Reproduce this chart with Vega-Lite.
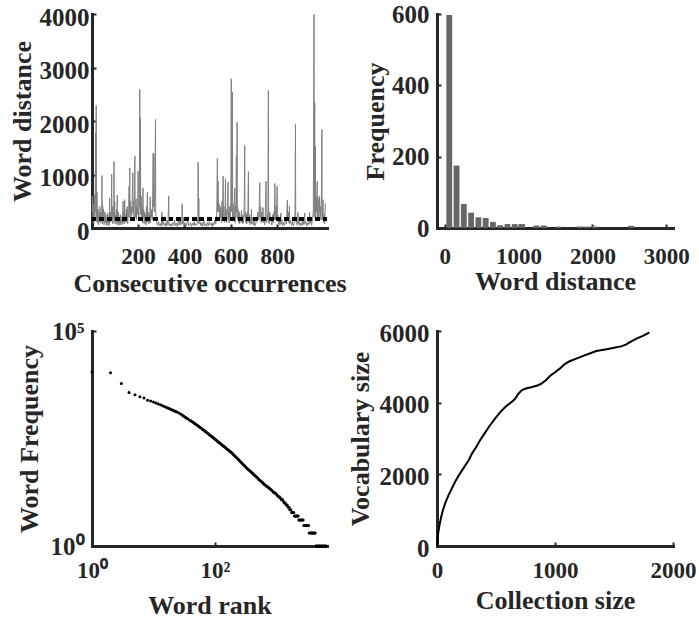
{
  "$schema": "https://vega.github.io/schema/vega-lite/v6.json",
  "background": "white",
  "padding": {"left": 8, "top": 2, "right": 0, "bottom": 0},
  "datasets": {
    "series": [
      {"occ":1,"dist":300},{"occ":3,"dist":600},{"occ":5,"dist":150},{"occ":7,"dist":450},{"occ":9,"dist":80},{"occ":11,"dist":620},{"occ":13,"dist":200},{"occ":15,"dist":500},{"occ":17,"dist":1780},{"occ":18,"dist":300},{"occ":19,"dist":2290},{"occ":20,"dist":120},{"occ":21,"dist":600},{"occ":23,"dist":670},{"occ":25,"dist":100},{"occ":27,"dist":350},{"occ":29,"dist":60},{"occ":31,"dist":250},{"occ":33,"dist":150},{"occ":35,"dist":400},{"occ":37,"dist":90},{"occ":39,"dist":300},{"occ":41,"dist":150},{"occ":43,"dist":200},{"occ":44,"dist":981},{"occ":45,"dist":80},{"occ":47,"dist":420},{"occ":49,"dist":150},{"occ":51,"dist":350},{"occ":53,"dist":60},{"occ":55,"dist":200},{"occ":57,"dist":300},{"occ":59,"dist":100},{"occ":61,"dist":250},{"occ":63,"dist":50},{"occ":65,"dist":180},{"occ":67,"dist":90},{"occ":69,"dist":280},{"occ":71,"dist":40},{"occ":73,"dist":150},{"occ":75,"dist":60},{"occ":77,"dist":564},{"occ":78,"dist":100},{"occ":80,"dist":300},{"occ":82,"dist":120},{"occ":84,"dist":200},{"occ":86,"dist":1006},{"occ":87,"dist":150},{"occ":89,"dist":400},{"occ":91,"dist":80},{"occ":93,"dist":300},{"occ":95,"dist":200},{"occ":96,"dist":1243},{"occ":97,"dist":120},{"occ":99,"dist":500},{"occ":101,"dist":80},{"occ":103,"dist":250},{"occ":105,"dist":150},{"occ":107,"dist":350},{"occ":109,"dist":60},{"occ":110,"dist":613},{"occ":111,"dist":200},{"occ":113,"dist":100},{"occ":115,"dist":300},{"occ":117,"dist":50},{"occ":119,"dist":200},{"occ":121,"dist":90},{"occ":123,"dist":250},{"occ":125,"dist":60},{"occ":127,"dist":180},{"occ":129,"dist":100},{"occ":131,"dist":220},{"occ":133,"dist":70},{"occ":135,"dist":501},{"occ":136,"dist":120},{"occ":138,"dist":300},{"occ":140,"dist":80},{"occ":142,"dist":530},{"occ":143,"dist":150},{"occ":145,"dist":250},{"occ":147,"dist":100},{"occ":149,"dist":350},{"occ":151,"dist":150},{"occ":153,"dist":400},{"occ":155,"dist":80},{"occ":157,"dist":300},{"occ":159,"dist":200},{"occ":161,"dist":781},{"occ":162,"dist":300},{"occ":164,"dist":1125},{"occ":165,"dist":200},{"occ":167,"dist":500},{"occ":169,"dist":150},{"occ":171,"dist":400},{"occ":173,"dist":250},{"occ":175,"dist":600},{"occ":177,"dist":1032},{"occ":178,"dist":300},{"occ":180,"dist":500},{"occ":182,"dist":150},{"occ":184,"dist":700},{"occ":186,"dist":1342},{"occ":187,"dist":400},{"occ":189,"dist":200},{"occ":191,"dist":550},{"occ":193,"dist":150},{"occ":195,"dist":400},{"occ":197,"dist":250},{"occ":199,"dist":600},{"occ":200,"dist":1063},{"occ":201,"dist":300},{"occ":203,"dist":150},{"occ":205,"dist":450},{"occ":207,"dist":2589},{"occ":208,"dist":400},{"occ":210,"dist":2059},{"occ":211,"dist":250},{"occ":213,"dist":600},{"occ":215,"dist":150},{"occ":217,"dist":400},{"occ":219,"dist":100},{"occ":221,"dist":750},{"occ":222,"dist":200},{"occ":224,"dist":350},{"occ":226,"dist":80},{"occ":228,"dist":300},{"occ":230,"dist":150},{"occ":232,"dist":250},{"occ":234,"dist":60},{"occ":236,"dist":400},{"occ":238,"dist":120},{"occ":240,"dist":670},{"occ":241,"dist":200},{"occ":243,"dist":100},{"occ":245,"dist":300},{"occ":247,"dist":80},{"occ":249,"dist":250},{"occ":251,"dist":150},{"occ":252,"dist":581},{"occ":253,"dist":100},{"occ":255,"dist":300},{"occ":257,"dist":200},{"occ":259,"dist":350},{"occ":261,"dist":150},{"occ":263,"dist":600},{"occ":265,"dist":1405},{"occ":266,"dist":400},{"occ":268,"dist":1380},{"occ":270,"dist":300},{"occ":272,"dist":600},{"occ":275,"dist":2028},{"occ":276,"dist":300},{"occ":278,"dist":150},{"occ":280,"dist":100},{"occ":284,"dist":50},{"occ":288,"dist":120},{"occ":292,"dist":40},{"occ":296,"dist":80},{"occ":300,"dist":30},{"occ":303,"dist":300},{"occ":305,"dist":60},{"occ":309,"dist":120},{"occ":313,"dist":40},{"occ":317,"dist":90},{"occ":321,"dist":30},{"occ":325,"dist":150},{"occ":329,"dist":50},{"occ":332,"dist":600},{"occ":333,"dist":100},{"occ":337,"dist":40},{"occ":341,"dist":80},{"occ":345,"dist":30},{"occ":349,"dist":100},{"occ":353,"dist":50},{"occ":357,"dist":150},{"occ":361,"dist":40},{"occ":365,"dist":90},{"occ":369,"dist":30},{"occ":373,"dist":120},{"occ":377,"dist":50},{"occ":381,"dist":200},{"occ":385,"dist":60},{"occ":389,"dist":120},{"occ":390,"dist":452},{"occ":391,"dist":80},{"occ":394,"dist":200},{"occ":398,"dist":50},{"occ":402,"dist":100},{"occ":406,"dist":30},{"occ":410,"dist":80},{"occ":414,"dist":150},{"occ":418,"dist":40},{"occ":422,"dist":60},{"occ":426,"dist":100},{"occ":430,"dist":30},{"occ":434,"dist":90},{"occ":438,"dist":50},{"occ":442,"dist":120},{"occ":446,"dist":40},{"occ":450,"dist":80},{"occ":454,"dist":60},{"occ":458,"dist":200},{"occ":459,"dist":1230},{"occ":460,"dist":100},{"occ":462,"dist":550},{"occ":463,"dist":80},{"occ":467,"dist":120},{"occ":471,"dist":40},{"occ":475,"dist":100},{"occ":479,"dist":30},{"occ":483,"dist":150},{"occ":487,"dist":50},{"occ":491,"dist":80},{"occ":495,"dist":30},{"occ":499,"dist":100},{"occ":503,"dist":40},{"occ":507,"dist":120},{"occ":511,"dist":60},{"occ":515,"dist":90},{"occ":519,"dist":30},{"occ":523,"dist":100},{"occ":527,"dist":50},{"occ":531,"dist":150},{"occ":535,"dist":80},{"occ":539,"dist":200},{"occ":542,"dist":1299},{"occ":543,"dist":300},{"occ":545,"dist":876},{"occ":546,"dist":500},{"occ":548,"dist":300},{"occ":550,"dist":450},{"occ":552,"dist":150},{"occ":554,"dist":400},{"occ":556,"dist":200},{"occ":558,"dist":350},{"occ":560,"dist":100},{"occ":562,"dist":500},{"occ":564,"dist":200},{"occ":567,"dist":969},{"occ":568,"dist":150},{"occ":570,"dist":400},{"occ":572,"dist":100},{"occ":575,"dist":300},{"occ":577,"dist":920},{"occ":578,"dist":200},{"occ":580,"dist":350},{"occ":582,"dist":100},{"occ":585,"dist":250},{"occ":588,"dist":857},{"occ":589,"dist":150},{"occ":591,"dist":300},{"occ":593,"dist":100},{"occ":595,"dist":400},{"occ":597,"dist":200},{"occ":600,"dist":500},{"occ":602,"dist":2789},{"occ":603,"dist":300},{"occ":605,"dist":600},{"occ":607,"dist":2539},{"occ":608,"dist":200},{"occ":610,"dist":450},{"occ":612,"dist":150},{"occ":614,"dist":300},{"occ":617,"dist":738},{"occ":618,"dist":100},{"occ":620,"dist":400},{"occ":622,"dist":200},{"occ":624,"dist":1343},{"occ":625,"dist":300},{"occ":627,"dist":1978},{"occ":628,"dist":250},{"occ":630,"dist":150},{"occ":632,"dist":350},{"occ":634,"dist":100},{"occ":636,"dist":300},{"occ":638,"dist":80},{"occ":640,"dist":200},{"occ":643,"dist":150},{"occ":646,"dist":330},{"occ":647,"dist":100},{"occ":649,"dist":250},{"occ":651,"dist":80},{"occ":653,"dist":200},{"occ":655,"dist":100},{"occ":658,"dist":400},{"occ":660,"dist":1542},{"occ":661,"dist":200},{"occ":663,"dist":300},{"occ":665,"dist":100},{"occ":667,"dist":250},{"occ":669,"dist":80},{"occ":671,"dist":300},{"occ":673,"dist":150},{"occ":676,"dist":1056},{"occ":677,"dist":200},{"occ":679,"dist":100},{"occ":681,"dist":250},{"occ":683,"dist":60},{"occ":685,"dist":200},{"occ":687,"dist":100},{"occ":689,"dist":350},{"occ":690,"dist":80},{"occ":693,"dist":200},{"occ":697,"dist":50},{"occ":701,"dist":150},{"occ":705,"dist":40},{"occ":709,"dist":100},{"occ":713,"dist":200},{"occ":717,"dist":300},{"occ":721,"dist":150},{"occ":725,"dist":845},{"occ":726,"dist":200},{"occ":729,"dist":400},{"occ":731,"dist":100},{"occ":734,"dist":300},{"occ":736,"dist":150},{"occ":739,"dist":380},{"occ":740,"dist":100},{"occ":743,"dist":200},{"occ":746,"dist":60},{"occ":749,"dist":300},{"occ":752,"dist":876},{"occ":753,"dist":200},{"occ":755,"dist":100},{"occ":758,"dist":250},{"occ":760,"dist":150},{"occ":762,"dist":2570},{"occ":763,"dist":200},{"occ":765,"dist":80},{"occ":768,"dist":300},{"occ":771,"dist":150},{"occ":774,"dist":200},{"occ":777,"dist":60},{"occ":780,"dist":250},{"occ":783,"dist":100},{"occ":786,"dist":300},{"occ":788,"dist":150},{"occ":790,"dist":832},{"occ":791,"dist":300},{"occ":793,"dist":150},{"occ":795,"dist":400},{"occ":797,"dist":200},{"occ":800,"dist":780},{"occ":801,"dist":150},{"occ":803,"dist":250},{"occ":806,"dist":80},{"occ":809,"dist":150},{"occ":812,"dist":50},{"occ":816,"dist":280},{"occ":817,"dist":80},{"occ":820,"dist":150},{"occ":824,"dist":40},{"occ":828,"dist":100},{"occ":832,"dist":60},{"occ":836,"dist":150},{"occ":840,"dist":80},{"occ":844,"dist":520},{"occ":845,"dist":150},{"occ":848,"dist":300},{"occ":851,"dist":100},{"occ":853,"dist":410},{"occ":854,"dist":80},{"occ":858,"dist":150},{"occ":862,"dist":50},{"occ":866,"dist":120},{"occ":870,"dist":40},{"occ":874,"dist":100},{"occ":877,"dist":300},{"occ":879,"dist":1935},{"occ":880,"dist":200},{"occ":883,"dist":100},{"occ":887,"dist":50},{"occ":890,"dist":290},{"occ":891,"dist":80},{"occ":895,"dist":120},{"occ":899,"dist":40},{"occ":903,"dist":100},{"occ":907,"dist":50},{"occ":911,"dist":150},{"occ":915,"dist":60},{"occ":919,"dist":280},{"occ":920,"dist":80},{"occ":924,"dist":120},{"occ":928,"dist":40},{"occ":932,"dist":100},{"occ":936,"dist":60},{"occ":940,"dist":290},{"occ":941,"dist":80},{"occ":945,"dist":150},{"occ":949,"dist":50},{"occ":953,"dist":200},{"occ":956,"dist":300},{"occ":959,"dist":3990},{"occ":960,"dist":200},{"occ":962,"dist":2340},{"occ":963,"dist":300},{"occ":965,"dist":1530},{"occ":966,"dist":200},{"occ":968,"dist":600},{"occ":970,"dist":300},{"occ":973,"dist":876},{"occ":974,"dist":200},{"occ":976,"dist":500},{"occ":978,"dist":150},{"occ":980,"dist":564},{"occ":981,"dist":300},{"occ":983,"dist":600},{"occ":985,"dist":200},{"occ":987,"dist":400},{"occ":989,"dist":150},{"occ":991,"dist":600},{"occ":993,"dist":1841},{"occ":994,"dist":300},{"occ":996,"dist":150},{"occ":998,"dist":530},{"occ":999,"dist":200},{"occ":1001,"dist":100},{"occ":1003,"dist":250},{"occ":1005,"dist":80},{"occ":1008,"dist":460}
    ],
    "hist": [
      {"from":21.6,"to":100.4,"n":597},{"from":120.1,"to":198.9,"n":175},{"from":218.6,"to":297.4,"n":67},{"from":317.1,"to":395.9,"n":43},{"from":415.6,"to":494.4,"n":30},{"from":514.1,"to":592.9,"n":28},{"from":612.6,"to":691.4,"n":17},{"from":711.1,"to":789.9,"n":8},{"from":809.6,"to":888.4,"n":11},{"from":908.1,"to":986.9,"n":11},{"from":1006.6,"to":1085.4,"n":11},{"from":1203.6,"to":1282.4,"n":7},{"from":1302.1,"to":1380.9,"n":7},{"from":1499.1,"to":1577.9,"n":4},{"from":1794.6,"to":1873.4,"n":4},{"from":1893.1,"to":1971.9,"n":4},{"from":1991.6,"to":2070.4,"n":4},{"from":2484.1,"to":2562.9,"n":6}
    ],
    "zipf": [
      {"rank":1,"freq":11200},{"rank":2,"freq":10700},{"rank":3,"freq":6050},{"rank":4,"freq":3700},{"rank":5,"freq":3310},{"rank":6,"freq":2970},{"rank":7,"freq":2760},{"rank":8,"freq":2450},{"rank":9,"freq":2340},{"rank":10,"freq":2230},{"rank":11,"freq":2120},{"rank":12,"freq":2010},{"rank":13,"freq":1915},{"rank":14,"freq":1830},{"rank":15,"freq":1755},{"rank":16,"freq":1690},{"rank":17,"freq":1630},{"rank":18,"freq":1567},{"rank":19,"freq":1510},{"rank":20,"freq":1465},{"rank":21,"freq":1420},{"rank":22,"freq":1380},{"rank":23,"freq":1340},{"rank":24,"freq":1306},{"rank":26,"freq":1233},{"rank":28,"freq":1151},{"rank":30,"freq":1080},{"rank":31,"freq":1040},{"rank":33,"freq":986},{"rank":34,"freq":950},{"rank":36,"freq":912},{"rank":39,"freq":843},{"rank":40,"freq":815},{"rank":42,"freq":785},{"rank":44,"freq":750},{"rank":46,"freq":716},{"rank":48,"freq":688},{"rank":50,"freq":660},{"rank":52,"freq":636},{"rank":54,"freq":612},{"rank":56,"freq":588},{"rank":58,"freq":565},{"rank":61,"freq":540},{"rank":63,"freq":515},{"rank":66,"freq":492},{"rank":68,"freq":472},{"rank":71,"freq":452},{"rank":74,"freq":431},{"rank":77,"freq":412},{"rank":80,"freq":393},{"rank":83,"freq":377},{"rank":86,"freq":361},{"rank":90,"freq":345},{"rank":93,"freq":330},{"rank":97,"freq":316},{"rank":100,"freq":302},{"rank":104,"freq":290},{"rank":108,"freq":277},{"rank":112,"freq":266},{"rank":116,"freq":255},{"rank":120,"freq":244},{"rank":125,"freq":234},{"rank":130,"freq":224},{"rank":135,"freq":214},{"rank":140,"freq":205},{"rank":145,"freq":197},{"rank":150,"freq":189},{"rank":156,"freq":181},{"rank":162,"freq":174},{"rank":168,"freq":167},{"rank":174,"freq":160},{"rank":181,"freq":153},{"rank":188,"freq":145},{"rank":195,"freq":138},{"rank":202,"freq":131},{"rank":210,"freq":124},{"rank":218,"freq":118},{"rank":226,"freq":112},{"rank":234,"freq":106},{"rank":243,"freq":101},{"rank":252,"freq":95},{"rank":262,"freq":90},{"rank":272,"freq":85},{"rank":282,"freq":81},{"rank":293,"freq":77},{"rank":304,"freq":73},{"rank":315,"freq":69},{"rank":327,"freq":65},{"rank":339,"freq":62},{"rank":352,"freq":59},{"rank":365,"freq":56},{"rank":379,"freq":54},{"rank":393,"freq":51},{"rank":408,"freq":49},{"rank":424,"freq":46},{"rank":440,"freq":44},{"rank":457,"freq":42},{"rank":474,"freq":40},{"rank":492,"freq":38},{"rank":510,"freq":36},{"rank":529,"freq":34},{"rank":549,"freq":33},{"rank":570,"freq":31},{"rank":591,"freq":30},{"rank":613,"freq":28},{"rank":636,"freq":27},{"rank":660,"freq":26},{"rank":685,"freq":25},{"rank":711,"freq":24},{"rank":738,"freq":23},{"rank":766,"freq":22},{"rank":795,"freq":21},{"rank":825,"freq":20},{"rank":856,"freq":19},{"rank":888,"freq":18},{"rank":922,"freq":17},{"rank":957,"freq":17},{"rank":993,"freq":16},{"rank":1030,"freq":15},{"rank":1069,"freq":14},{"rank":1110,"freq":14},{"rank":1151,"freq":13},{"rank":1195,"freq":12},{"rank":1240,"freq":12},{"rank":1287,"freq":11},{"rank":1335,"freq":10},{"rank":1385,"freq":10},{"rank":1438,"freq":9},{"rank":1490,"freq":9},{"rank":1549,"freq":8},{"rank":1595,"freq":8},{"rank":1640,"freq":7},{"rank":1700,"freq":7},{"rank":1760,"freq":6},{"rank":1800,"freq":6},{"rank":1850,"freq":6},{"rank":1900,"freq":6},{"rank":1950,"freq":5},{"rank":2000,"freq":5},{"rank":2060,"freq":5},{"rank":2120,"freq":5},{"rank":2180,"freq":5},{"rank":2240,"freq":5},{"rank":2300,"freq":4},{"rank":2380,"freq":4},{"rank":2460,"freq":4},{"rank":2540,"freq":4},{"rank":2620,"freq":4},{"rank":2700,"freq":4},{"rank":2780,"freq":3},{"rank":2870,"freq":3},{"rank":2960,"freq":3},{"rank":3050,"freq":3},{"rank":3140,"freq":3},{"rank":3230,"freq":3},{"rank":3310,"freq":3},{"rank":3400,"freq":2},{"rank":3520,"freq":2},{"rank":3640,"freq":2},{"rank":3760,"freq":2},{"rank":3880,"freq":2},{"rank":4000,"freq":2},{"rank":4120,"freq":2},{"rank":4240,"freq":2},{"rank":4350,"freq":1},{"rank":4500,"freq":1},{"rank":4650,"freq":1},{"rank":4800,"freq":1},{"rank":4960,"freq":1},{"rank":5120,"freq":1},{"rank":5290,"freq":1},{"rank":5460,"freq":1},{"rank":5640,"freq":1},{"rank":5830,"freq":1},{"rank":6020,"freq":1},{"rank":6220,"freq":1},{"rank":6400,"freq":1}
    ],
    "heaps": [
      {"coll":0,"vocab":0},{"coll":5,"vocab":200},{"coll":12,"vocab":400},{"coll":22,"vocab":600},{"coll":35,"vocab":800},{"coll":50,"vocab":1000},{"coll":70,"vocab":1200},{"coll":95,"vocab":1400},{"coll":125,"vocab":1600},{"coll":155,"vocab":1800},{"coll":190,"vocab":2000},{"coll":230,"vocab":2200},{"coll":270,"vocab":2400},{"coll":300,"vocab":2600},{"coll":330,"vocab":2750},{"coll":365,"vocab":2950},{"coll":405,"vocab":3150},{"coll":445,"vocab":3350},{"coll":490,"vocab":3550},{"coll":540,"vocab":3750},{"coll":585,"vocab":3900},{"coll":625,"vocab":4000},{"coll":660,"vocab":4100},{"coll":690,"vocab":4250},{"coll":720,"vocab":4350},{"coll":760,"vocab":4400},{"coll":800,"vocab":4430},{"coll":850,"vocab":4480},{"coll":880,"vocab":4520},{"coll":920,"vocab":4620},{"coll":960,"vocab":4750},{"coll":1000,"vocab":4850},{"coll":1040,"vocab":4950},{"coll":1080,"vocab":5070},{"coll":1120,"vocab":5150},{"coll":1180,"vocab":5230},{"coll":1250,"vocab":5320},{"coll":1300,"vocab":5380},{"coll":1350,"vocab":5440},{"coll":1400,"vocab":5470},{"coll":1450,"vocab":5500},{"coll":1500,"vocab":5530},{"coll":1560,"vocab":5570},{"coll":1600,"vocab":5620},{"coll":1650,"vocab":5720},{"coll":1700,"vocab":5800},{"coll":1750,"vocab":5870},{"coll":1800,"vocab":5960}
    ]
  },
  "columns": 2,
  "spacing": {"row": 103, "column": 110},
  "bounds": "flush",
  "concat": [
    {
      "width": 235, "height": 214,
      "data": {"name": "series"},
      "layer": [
        {
          "mark": {"type": "line", "color": "#808080", "strokeWidth": 1},
          "encoding": {
            "x": {"field": "occ", "type": "quantitative", "scale": {"domain": [1, 1015], "nice": false, "zero": false},
                  "axis": {"title": "Consecutive occurrences", "values": [200, 400, 600, 800], "labelPadding": 21, "titleY": 63}},
            "y": {"field": "dist", "type": "quantitative", "scale": {"domain": [0, 4000], "nice": false},
                  "axis": {"title": "Word distance", "values": [0, 1000, 2000, 3000, 4000], "labelPadding": 7, "labelOffset": 3, "titleX": -62}}
          }
        },
        {
          "mark": {"type": "rule", "color": "black", "strokeWidth": 3.5, "strokeDash": [4, 3.7]},
          "encoding": {"y": {"datum": 175}}
        }
      ]
    },
    {
      "width": 236, "height": 214,
      "data": {"name": "hist"},
      "mark": {"type": "rect", "color": "#666666"},
      "encoding": {
        "x": {"field": "from", "type": "quantitative", "scale": {"domain": [-105, 3090], "nice": false, "zero": false},
              "axis": {"title": "Word distance", "values": [0, 1000, 2000, 3000], "labelPadding": 21, "titleY": 61}},
        "x2": {"field": "to"},
        "y": {"field": "n", "type": "quantitative", "scale": {"domain": [0, 600], "nice": false},
              "axis": {"title": "Frequency", "values": [0, 200, 400, 600], "labelPadding": 12, "labelOffset": 0, "titleX": -54}},
        "y2": {"datum": 0}
      }
    },
    {
      "width": 235, "height": 215,
      "data": {"name": "zipf"},
      "mark": {"type": "circle", "color": "black", "size": 9, "opacity": 1},
      "encoding": {
        "x": {"field": "rank", "type": "quantitative", "scale": {"type": "log", "domain": [1, 6600], "nice": false},
              "axis": {"title": "Word rank", "values": [1, 100], "labelExpr": "datum.value == 1 ? '10⁰' : '10²'", "labelPadding": 17, "titleY": 67}},
        "y": {"field": "freq", "type": "quantitative", "scale": {"type": "log", "domain": [1, 100000], "nice": false},
              "axis": {"title": "Word Frequency", "values": [1, 100000], "labelExpr": "datum.value == 1 ? '10⁰' : '10⁵'", "labelPadding": 12, "titleX": -55}}
      }
    },
    {
      "width": 236, "height": 215,
      "data": {"name": "heaps"},
      "mark": {"type": "line", "color": "black", "strokeWidth": 2},
      "encoding": {
        "x": {"field": "coll", "type": "quantitative", "scale": {"domain": [0, 2000], "nice": false},
              "axis": {"title": "Collection size", "values": [0, 1000, 2000], "labelPadding": 17, "titleY": 62}},
        "y": {"field": "vocab", "type": "quantitative", "scale": {"domain": [0, 6000], "nice": false},
              "axis": {"title": "Vocabulary size", "values": [0, 2000, 4000, 6000], "labelPadding": 12, "labelOffset": 2, "titleX": -69}}
      }
    }
  ],
  "config": {
    "view": {"stroke": null},
    "font": "Liberation Serif",
    "numberFormat": "d",
    "axis": {
      "grid": false,
      "domainColor": "#262626", "domainWidth": 3, "domainCap": "square",
      "tickColor": "#262626", "tickWidth": 2, "tickSize": -4,
      "labelFont": "Liberation Serif", "labelFontWeight": "bold", "labelColor": "#262626",
      "labelFlush": false, "labelOverlap": false,
      "titleFont": "Liberation Serif", "titleFontWeight": "bold", "titleFontSize": 26, "titleColor": "#262626",
      "titleBaseline": "alphabetic"
    },
    "axisX": {"labelFontSize": 23},
    "axisY": {"labelFontSize": 25}
  }
}
